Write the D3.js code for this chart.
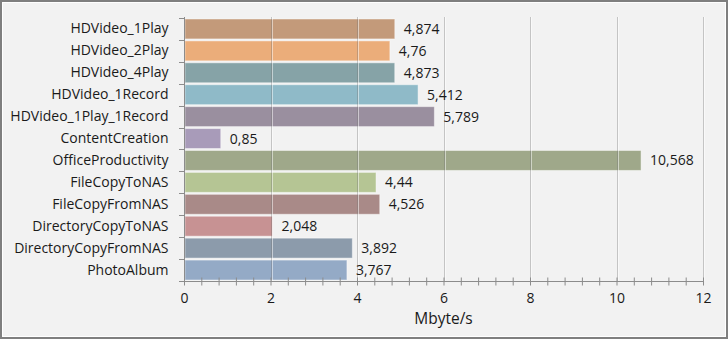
<!DOCTYPE html>
<html><head><meta charset="utf-8">
<script src="https://cdn.jsdelivr.net/npm/d3@7"></script>
<style>html,body{margin:0;padding:0;background:#fff;}svg{display:block;}</style>
</head><body>
<svg id="c" width="728" height="339"></svg>
<script>
const categories = ["HDVideo_1Play","HDVideo_2Play","HDVideo_4Play","HDVideo_1Record","HDVideo_1Play_1Record","ContentCreation","OfficeProductivity","FileCopyToNAS","FileCopyFromNAS","DirectoryCopyToNAS","DirectoryCopyFromNAS","PhotoAlbum"];
const values = [4.874,4.76,4.873,5.412,5.789,0.85,10.568,4.44,4.526,2.048,3.892,3.767];
const colors = ["#c39a7a","#ebad7a","#86a3a7","#8fbac8","#9a8f9f","#a89bb9","#9fa88a","#b5c594","#a98a88","#c79293","#8c9bab","#94aac6"];
const xTicks = [0,2,4,6,8,10,12];
const xTitle = "Mbyte/s";

const svg = d3.select("#c");
const W = 728, H = 339;
const font = "'Open Sans', sans-serif";
const fs = 14;
// background and frame
svg.append("rect").attr("x",0).attr("y",0).attr("width",W).attr("height",H).attr("fill","#7f7f7f");
svg.append("rect").attr("x",2).attr("y",2).attr("width",W-4).attr("height",H-4).attr("fill","#ffffff");
svg.append("rect").attr("x",3).attr("y",3).attr("width",W-6).attr("height",H-6).attr("fill","#f2f2f2");

const x = d3.scaleLinear().domain([0,12]).range([184,703]);
const y = d3.scaleBand().domain(categories).range([18,281]).paddingInner(0.09).paddingOuter(0.045);

// bars
svg.append("g").selectAll("rect").data(categories).join("rect")
  .attr("x", x(0)+1)
  .attr("y", d=>y(d))
  .attr("width", (d,i)=>x(values[i])-x(0)-1)
  .attr("height", y.bandwidth())
  .attr("fill",(d,i)=>colors[i])
  .attr("stroke","#ffffff").attr("stroke-opacity",0.45).attr("stroke-width",1);

// gridlines (on top, semi transparent)
const grid = svg.append("g");
xTicks.filter(t=>t>0).forEach(t=>{
  grid.append("line").attr("x1",Math.round(x(t))+1.5).attr("x2",Math.round(x(t))+1.5)
    .attr("y1",17).attr("y2",281).attr("stroke","#ffffff").attr("stroke-opacity",0.5);
  grid.append("line").attr("x1",Math.round(x(t))+0.5).attr("x2",Math.round(x(t))+0.5)
    .attr("y1",17).attr("y2",281).attr("stroke","#707070").attr("stroke-opacity",0.35);
});

// x axis with minor ticks
const minor = d3.range(0,12.001,0.4).map(v=>+v.toFixed(2));
const xAxis = svg.append("g").attr("transform","translate(0,281.5)")
  .call(d3.axisBottom(x).tickValues(minor).tickSize(4).tickFormat(""));
xAxis.select(".domain").remove();
xAxis.selectAll(".tick line").attr("stroke","#8c8c8c").attr("y1",-4);
svg.append("line").attr("x1",x(0)).attr("x2",x(12)).attr("y1",281.5).attr("y2",281.5).attr("stroke","#8c8c8c");
const xLab = svg.append("g").attr("transform","translate(0,281.5)")
  .call(d3.axisBottom(x).tickValues(xTicks).tickSize(0).tickPadding(12).tickFormat(d=>String(d)));
xLab.select(".domain").remove();
xLab.selectAll("text").attr("font-family",font).attr("font-size",fs).attr("fill","#1a1a1a");

// y axis
const yAxis = svg.append("g").attr("transform","translate(184.5,0)")
  .call(d3.axisLeft(y).tickSize(0).tickPadding(16));
yAxis.select(".domain").attr("stroke","#8c8c8c").attr("d","M0,17V281.5");
yAxis.selectAll("text").attr("font-family",font).attr("font-size",fs).attr("fill","#1a1a1a");
// y boundary ticks
const yb = categories.map(c=>y(c)-y.step()*y.paddingInner()/2).concat([281]);
svg.append("g").selectAll("line").data(yb).join("line")
  .attr("x1",179).attr("x2",184).attr("y1",d=>Math.round(d)+0.5).attr("y2",d=>Math.round(d)+0.5)
  .attr("stroke","#8c8c8c");

// value labels
svg.append("g").selectAll("text").data(categories).join("text")
  .attr("x",(d,i)=>x(values[i])+9)
  .attr("y",d=>y(d)+y.bandwidth()/2)
  .attr("dy","0.36em")
  .attr("font-family",font).attr("font-size",fs).attr("fill","#1a1a1a")
  .text((d,i)=>String(values[i]).replace(".",","));

// x title
svg.append("text").attr("x",443.5).attr("y",324).attr("text-anchor","middle")
  .attr("font-family",font).attr("font-size",15.5).attr("fill","#1a1a1a").text(xTitle);
</script>
</body></html>
